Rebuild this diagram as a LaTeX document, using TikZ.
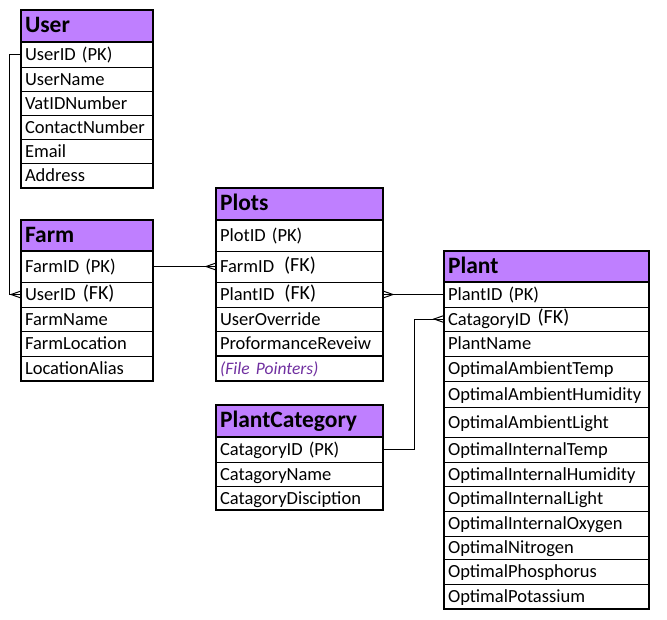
\documentclass[tikz,border=0pt]{standalone}
\usepackage{fontspec}
\setmainfont{Carlito}
\definecolor{hdr}{RGB}{191,127,255}
\definecolor{fp}{RGB}{112,48,160}
\tikzset{
  rowbox/.style={draw=black, line width=0.8pt, inner xsep=4pt, inner ysep=0pt, outer sep=0pt,
    align=left, text height=14pt, text depth=2pt, font=\fontsize{18.5}{20}\selectfont},
  headbox/.style={rowbox, fill=hdr, text height=16pt, text depth=3pt, font=\fontsize{23.5}{24}\selectfont\bfseries},
  outline/.style={draw=black, line width=2pt},
  hline/.style={draw=black, line width=1.6pt},
  conn/.style={draw=black, line width=1pt}
}
\newcommand\trow[6]{% name, x, top, bottom, width, text
  \pgfmathsetmacro\rh{#4-#3}\pgfmathsetmacro\tw{#5-8}%
  \node[rowbox, minimum width=#5, minimum height=\rh, text width=\tw, anchor=north west] (#1) at (#2,#3) {#6};}
\newcommand\thead[6]{%
  \pgfmathsetmacro\rh{#4-#3}\pgfmathsetmacro\tw{#5-8}%
  \node[headbox, minimum width=#5, minimum height=\rh, text width=\tw, anchor=north west] (#1) at (#2,#3) {#6};}
\newcommand\fk[2]{#1\hspace{#2}\raisebox{1.5pt}{\fontsize{20}{20}\selectfont(FK)}}
\newcommand\crowfoot[2]{\draw[conn] (#1) ++(0,3.5) -- ++(#2,-3.5) -- ++(-#2,-3.5);}
\begin{document}
\begin{tikzpicture}[x=1pt,y=-1pt]
\useasboundingbox (0,0) rectangle (667,619);
% ---- User
\thead{uh}{21}{10}{42}{132}{User}
\trow{u1}{21}{42}{67}{132}{UserID (PK)}
\trow{u2}{21}{67}{91}{132}{UserName}
\trow{u3}{21}{91}{115}{132}{VatIDNumber}
\trow{u4}{21}{115}{139}{132}{ContactNumber}
\trow{u5}{21}{139}{163}{132}{Email}
\trow{u6}{21}{163}{188}{132}{Address}
\draw[hline] (uh.south west) -- (uh.south east);
\draw[outline] (uh.north west) rectangle (u6.south east);
% ---- Farm
\thead{fh}{21}{220}{251}{132}{Farm}
\trow{f1}{21}{251}{282}{132}{FarmID (PK)}
\trow{f2}{21}{282}{307}{132}{\fk{UserID}{7pt}}
\trow{f3}{21}{307}{331}{132}{FarmName}
\trow{f4}{21}{331}{356}{132}{FarmLocation}
\trow{f5}{21}{356}{381}{132}{LocationAlias}
\draw[hline] (fh.south west) -- (fh.south east);
\draw[outline] (fh.north west) rectangle (f5.south east);
% ---- Plots
\thead{ph}{216}{188}{220}{167}{Plots}
\trow{p1}{216}{220}{251}{167}{PlotID (PK)}
\trow{p2}{216}{251}{282}{167}{\fk{FarmID}{10pt}}
\trow{p3}{216}{282}{307}{167}{\fk{PlantID}{10pt}}
\trow{p4}{216}{307}{331}{167}{UserOverride}
\trow{p5}{216}{331}{356}{167}{ProformanceReveiw}
\trow{p6}{216}{356}{381}{167}{{\fontsize{17.5}{20}\selectfont\itshape\color{fp}(File Pointers)}}
\draw[hline] (ph.south west) -- (ph.south east);
\draw[hline] (p6.north west) -- (p6.north east);
\draw[outline] (ph.north west) rectangle (p6.south east);
% ---- PlantCategory
\thead{ch}{216}{405}{437}{167}{PlantCategory}
\trow{c1}{216}{437}{462}{167}{CatagoryID (PK)}
\trow{c2}{216}{462}{486}{167}{CatagoryName}
\trow{c3}{216}{486}{510}{167}{CatagoryDisciption}
\draw[hline] (ch.south west) -- (ch.south east);
\draw[outline] (ch.north west) rectangle (c3.south east);
% ---- Plant
\thead{lh}{444}{251}{282}{205}{Plant}
\trow{l1}{444}{282}{307}{205}{PlantID (PK)}
\trow{l2}{444}{307}{331}{205}{\fk{CatagoryID}{7pt}}
\trow{l3}{444}{331}{356}{205}{PlantName}
\trow{l4}{444}{356}{381}{205}{OptimalAmbientTemp}
\trow{l5}{444}{381}{407}{205}{OptimalAmbientHumidity}
\trow{l6}{444}{407}{437}{205}{OptimalAmbientLight}
\trow{l7}{444}{437}{462}{205}{OptimalInternalTemp}
\trow{l8}{444}{462}{486}{205}{OptimalInternalHumidity}
\trow{l9}{444}{486}{511}{205}{OptimalInternalLight}
\trow{l10}{444}{511}{536}{205}{OptimalInternalOxygen}
\trow{l11}{444}{536}{559}{205}{OptimalNitrogen}
\trow{l12}{444}{559}{584}{205}{OptimalPhosphorus}
\trow{l13}{444}{584}{609}{205}{OptimalPotassium}
\draw[hline] (lh.south west) -- (lh.south east);
\draw[outline] (lh.north west) rectangle (l13.south east);
% ---- Connectors
\draw[conn] (u1.west) -- ++(-12,0) |- (f2.west);
\crowfoot{f2.west}{-10}
\draw[conn] (f1.east) -- (p2.west);
\crowfoot{p2.west}{-10}
\draw[conn] (p3.east) -- (l1.west);
\crowfoot{p3.east}{10}
\draw[conn] (c1.east) -- ++(31,0) |- (l2.west);
\crowfoot{l2.west}{-10}
\end{tikzpicture}
\end{document}
